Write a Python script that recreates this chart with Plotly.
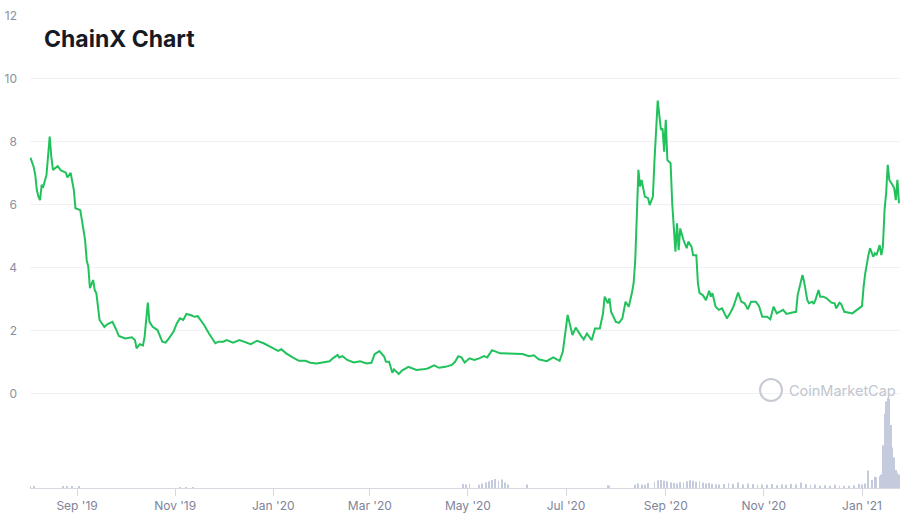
import plotly.graph_objects as go

# ---- price series (USD) ----
price_dates = [
    "2019-08-03", "2019-08-05", "2019-08-06", "2019-08-07", "2019-08-08", "2019-08-09", "2019-08-10",
    "2019-08-11", "2019-08-13", "2019-08-15", "2019-08-16", "2019-08-17", "2019-08-20", "2019-08-22",
    "2019-08-25", "2019-08-26", "2019-08-28", "2019-08-30", "2019-08-31", "2019-09-03", "2019-09-04",
    "2019-09-06", "2019-09-07", "2019-09-08", "2019-09-09", "2019-09-11", "2019-09-12", "2019-09-13",
    "2019-09-15", "2019-09-18", "2019-09-20", "2019-09-23", "2019-09-25", "2019-09-27", "2019-09-29",
    "2019-10-01", "2019-10-05", "2019-10-07", "2019-10-08", "2019-10-10", "2019-10-12", "2019-10-13",
    "2019-10-15", "2019-10-16", "2019-10-18", "2019-10-21", "2019-10-24", "2019-10-26", "2019-10-28",
    "2019-10-30", "2019-10-31", "2019-11-02", "2019-11-04", "2019-11-06", "2019-11-08", "2019-11-11",
    "2019-11-13", "2019-11-15", "2019-11-19", "2019-11-22", "2019-11-24", "2019-11-26", "2019-11-28",
    "2019-12-01", "2019-12-03", "2019-12-07", "2019-12-11", "2019-12-18", "2019-12-22", "2019-12-26",
    "2019-12-30", "2020-01-02", "2020-01-04", "2020-01-06", "2020-01-09", "2020-01-13", "2020-01-17",
    "2020-01-21", "2020-01-24", "2020-01-28", "2020-02-01", "2020-02-05", "2020-02-07", "2020-02-10",
    "2020-02-11", "2020-02-13", "2020-02-16", "2020-02-20", "2020-02-24", "2020-02-28", "2020-03-02",
    "2020-03-04", "2020-03-07", "2020-03-10", "2020-03-11", "2020-03-13", "2020-03-15", "2020-03-16",
    "2020-03-19", "2020-03-21", "2020-03-25", "2020-03-28", "2020-03-30", "2020-04-03", "2020-04-06",
    "2020-04-10", "2020-04-13", "2020-04-17", "2020-04-21", "2020-04-23", "2020-04-25", "2020-04-27",
    "2020-04-29", "2020-05-02", "2020-05-05", "2020-05-08", "2020-05-11", "2020-05-13", "2020-05-16",
    "2020-05-21", "2020-05-29", "2020-06-04", "2020-06-08", "2020-06-11", "2020-06-14", "2020-06-19",
    "2020-06-23", "2020-06-27", "2020-06-29", "2020-07-02", "2020-07-05", "2020-07-07", "2020-07-10",
    "2020-07-12", "2020-07-14", "2020-07-17", "2020-07-19", "2020-07-22", "2020-07-24", "2020-07-25",
    "2020-07-27", "2020-07-28", "2020-07-29", "2020-08-01", "2020-08-03", "2020-08-05", "2020-08-07",
    "2020-08-09", "2020-08-11", "2020-08-12", "2020-08-13", "2020-08-14", "2020-08-15", "2020-08-16",
    "2020-08-17", "2020-08-19", "2020-08-21", "2020-08-22", "2020-08-24", "2020-08-25", "2020-08-27",
    "2020-08-29", "2020-08-30", "2020-08-31", "2020-09-01", "2020-09-02", "2020-09-04", "2020-09-05",
    "2020-09-06", "2020-09-07", "2020-09-08", "2020-09-09", "2020-09-10", "2020-09-12", "2020-09-14",
    "2020-09-15", "2020-09-17", "2020-09-18", "2020-09-20", "2020-09-21", "2020-09-22", "2020-09-24",
    "2020-09-26", "2020-09-28", "2020-09-29", "2020-09-30", "2020-10-02", "2020-10-04", "2020-10-06",
    "2020-10-09", "2020-10-11", "2020-10-13", "2020-10-16", "2020-10-18", "2020-10-20", "2020-10-22",
    "2020-10-24", "2020-10-27", "2020-10-29", "2020-10-31", "2020-11-03", "2020-11-05", "2020-11-07",
    "2020-11-09", "2020-11-13", "2020-11-15", "2020-11-18", "2020-11-21", "2020-11-22", "2020-11-25",
    "2020-11-26", "2020-11-28", "2020-11-29", "2020-12-01", "2020-12-02", "2020-12-03", "2020-12-05",
    "2020-12-06", "2020-12-08", "2020-12-10", "2020-12-13", "2020-12-15", "2020-12-16", "2020-12-18",
    "2020-12-19", "2020-12-21", "2020-12-24", "2020-12-26", "2020-12-28", "2020-12-30", "2021-01-01",
    "2021-01-02", "2021-01-03", "2021-01-05", "2021-01-06", "2021-01-08", "2021-01-09", "2021-01-10",
    "2021-01-12", "2021-01-13", "2021-01-14", "2021-01-15", "2021-01-16", "2021-01-17", "2021-01-18",
    "2021-01-20", "2021-01-21", "2021-01-22", "2021-01-23", "2021-01-24",
]
price_values = [
    7.50, 7.21, 6.95, 6.47, 6.26, 6.15, 6.63,
    6.58, 6.95, 8.17, 7.53, 7.11, 7.23, 7.09,
    7.02, 6.87, 7.02, 6.47, 5.89, 5.83, 5.52,
    4.88, 4.24, 4.03, 3.35, 3.61, 3.29, 3.19,
    2.34, 2.12, 2.21, 2.28, 2.07, 1.83, 1.79,
    1.75, 1.79, 1.70, 1.44, 1.57, 1.53, 1.81,
    2.89, 2.28, 2.12, 2.02, 1.65, 1.62, 1.75,
    1.91, 1.97, 2.23, 2.39, 2.34, 2.53, 2.49,
    2.44, 2.46, 2.18, 1.91, 1.75, 1.60, 1.65,
    1.65, 1.70, 1.62, 1.70, 1.57, 1.68, 1.60,
    1.49, 1.41, 1.36, 1.41, 1.28, 1.15, 1.04,
    1.04, 0.98, 0.96, 1.00, 1.03, 1.12, 1.23,
    1.15, 1.19, 1.07, 0.99, 1.03, 0.96, 0.98,
    1.25, 1.35, 1.17, 1.01, 1.01, 0.66, 0.77,
    0.62, 0.73, 0.85, 0.80, 0.75, 0.77, 0.80,
    0.90, 0.82, 0.85, 0.91, 1.01, 1.19, 1.15,
    0.99, 1.12, 1.07, 1.12, 1.19, 1.15, 1.38,
    1.28, 1.26, 1.26, 1.19, 1.22, 1.09, 1.03,
    1.15, 1.04, 1.33, 2.50, 1.86, 2.10, 1.86,
    1.72, 1.91, 1.70, 2.07, 2.07, 2.55, 3.08,
    2.87, 3.03, 2.60, 2.28, 2.25, 2.39, 2.92,
    2.76, 3.21, 3.50, 4.20, 5.52, 7.11, 6.58,
    6.79, 6.26, 6.21, 5.99, 6.26, 7.42, 9.31,
    8.38, 8.43, 7.69, 8.70, 7.42, 7.32, 6.05,
    5.41, 4.51, 5.41, 4.56, 5.25, 4.88, 4.62,
    4.83, 4.67, 4.40, 4.40, 3.50, 3.19, 3.13,
    2.97, 3.27, 3.08, 3.19, 2.76, 2.66, 2.71,
    2.39, 2.55, 2.76, 3.21, 2.92, 2.87, 2.68,
    2.92, 2.92, 2.78, 2.44, 2.44, 2.36, 2.76,
    2.55, 2.66, 2.53, 2.57, 2.60, 3.13, 3.77,
    3.56, 2.97, 2.87, 2.92, 2.85, 2.97, 3.29,
    3.08, 3.08, 3.03, 2.89, 2.87, 2.71, 2.89,
    2.85, 2.60, 2.57, 2.55, 2.63, 2.71, 2.78,
    3.40, 3.82, 4.40, 4.62, 4.35, 4.46, 4.40,
    4.72, 4.40, 4.67, 5.83, 6.37, 7.27, 6.79,
    6.63, 6.53, 6.15, 6.79, 6.05,
]

# ---- 24h volume (million USD) ----
volume_dates = [
    "2019-08-03", "2019-08-05", "2019-08-23", "2019-08-26", "2019-08-29", "2019-09-02",
    "2019-11-04", "2019-11-08", "2019-11-12",
    "2020-04-28", "2020-04-30", "2020-05-02", "2020-05-08", "2020-05-10", "2020-05-12",
    "2020-05-14", "2020-05-16", "2020-05-18", "2020-05-20", "2020-05-22", "2020-05-24",
    "2020-05-26", "2020-06-07", "2020-07-27", "2020-07-28",
    "2020-08-13", "2020-08-15", "2020-08-17", "2020-08-19", "2020-08-21", "2020-08-25",
    "2020-08-27", "2020-08-29", "2020-08-31", "2020-09-02", "2020-09-04", "2020-09-06",
    "2020-09-08", "2020-09-10", "2020-09-12", "2020-09-14", "2020-09-16", "2020-09-18",
    "2020-09-20", "2020-09-22", "2020-09-24", "2020-09-26", "2020-09-28", "2020-09-30",
    "2020-10-02", "2020-10-04", "2020-10-07", "2020-10-10", "2020-10-13", "2020-10-16",
    "2020-10-19", "2020-10-22", "2020-10-25", "2020-10-28", "2020-10-31", "2020-11-03",
    "2020-11-06", "2020-11-09", "2020-11-12", "2020-11-15", "2020-11-18", "2020-11-21",
    "2020-11-24", "2020-11-27", "2020-11-30", "2020-12-03", "2020-12-06", "2020-12-09",
    "2020-12-12", "2020-12-15", "2020-12-18", "2020-12-21", "2020-12-24", "2020-12-27",
    "2020-12-30", "2021-01-01", "2021-01-03", "2021-01-05", "2021-01-07", "2021-01-09",
    "2021-01-10", "2021-01-12", "2021-01-13", "2021-01-14", "2021-01-15", "2021-01-16",
    "2021-01-17", "2021-01-18", "2021-01-19", "2021-01-20", "2021-01-21", "2021-01-22",
    "2021-01-23", "2021-01-24",
]
volume_values = [
    0.4, 0.3, 0.3, 0.4, 0.3, 0.3,
    0.2, 0.2, 0.2,
    0.9, 0.8, 0.9, 0.7, 1.0, 1.2,
    1.5, 1.8, 2.0, 1.6, 1.9, 1.2,
    0.8, 0.8, 0.6, 0.5,
    0.7, 1.0, 0.8, 0.7, 1.1, 1.4,
    1.7, 1.8, 1.6, 1.5, 1.2, 1.1,
    1.0, 1.3, 1.2, 1.5, 1.7, 1.6,
    1.4, 1.5, 1.2, 1.0, 1.1, 0.9,
    0.8, 0.8, 0.9, 1.1, 0.9, 1.2,
    0.8, 1.0, 0.9, 0.7, 0.8, 0.7,
    0.9, 0.6, 0.8, 0.7, 0.9, 0.8,
    1.2, 0.9, 0.7, 0.8, 0.5, 0.6,
    0.5, 0.7, 0.5, 0.4, 0.5, 0.6,
    0.9, 0.8, 1.0, 3.9, 1.8, 2.5,
    2.4, 2.6, 3.0, 9.5, 16.5, 19.3,
    20.0, 19.8, 14.0, 9.0, 6.8, 4.0,
    3.4, 3.0,
]

x_tick_dates = ["2019-09-01", "2019-11-01", "2020-01-01", "2020-03-01", "2020-05-01",
                "2020-07-01", "2020-09-01", "2020-11-01", "2021-01-01"]
x_tick_labels = ["Sep '19", "Nov '19", "Jan '20", "Mar '20", "May '20",
                 "Jul '20", "Sep '20", "Nov '20", "Jan '21"]
y_tick_values = [0, 2, 4, 6, 8, 10, 12]
y_tick_labels = ["0", "2", "4", "6", "8", "10", "12"]

title_text = "ChainX Chart"
watermark_text = "CoinMarketCap"

fig = go.Figure()
fig.add_trace(go.Bar(
    x=volume_dates, y=volume_values, yaxis="y2",
    marker=dict(color="#c3cbdc", line=dict(width=0)),
    hoverinfo="skip", showlegend=False,
))
fig.add_trace(go.Scatter(
    x=price_dates, y=price_values, mode="lines",
    line=dict(color="#21c25c", width=2),
    showlegend=False,
))

fig.update_layout(
    width=900, height=515,
    margin=dict(l=30, r=0, t=16, b=27, pad=0),
    paper_bgcolor="white", plot_bgcolor="white",
    bargap=0.45,
    font=dict(family="Inter, Roboto, sans-serif", color="#858ca2", size=12),
    xaxis=dict(
        type="date",
        range=["2019-08-02 18:00", "2021-01-24 15:00"],
        tickmode="array", tickvals=x_tick_dates, ticktext=x_tick_labels,
        showgrid=False, zeroline=False,
        showline=True, linecolor="#d6d9e0", linewidth=1,
        ticks="outside", ticklen=7, tickcolor="#d6d9e0", tickwidth=1,
        tickfont=dict(size=12, color="#7d8499"),
    ),
    yaxis=dict(
        range=[-3.0, 12.0],
        tickmode="array", tickvals=y_tick_values, ticktext=y_tick_labels,
        showgrid=True, gridcolor="#f0f1f4", gridwidth=1,
        zeroline=False, showline=False, ticks="",
        ticklabelstandoff=12,
        tickfont=dict(size=12, color="#8a90a2"),
    ),
    yaxis2=dict(
        overlaying="y", range=[0, 105], visible=False, showgrid=False,
    ),
)

# title
fig.add_annotation(
    text="<b>" + title_text + "</b>", xref="paper", yref="paper",
    x=(42 - 30) / 870, y=(488 - 39) / 472, xanchor="left", yanchor="middle",
    showarrow=False, font=dict(family="Inter, sans-serif", size=23, color="#171924"),
)

# watermark logo + text
fig.add_shape(type="circle", xref="paper", yref="paper",
              x0=(760 - 30) / 870, x1=(782 - 30) / 870,
              y0=(488 - 401) / 472, y1=(488 - 379) / 472,
              line=dict(color="#c6cad3", width=2))
fig.add_annotation(
    text=watermark_text, xref="paper", yref="paper",
    x=(787 - 30) / 870, y=(488 - 390) / 472, xanchor="left", yanchor="middle",
    showarrow=False, font=dict(family="Inter, sans-serif", size=14.5, color="#c2c6cf"),
)

fig.write_html("out.html", config={"displayModeBar": False},
               post_script="document.body.style.margin='0';")
